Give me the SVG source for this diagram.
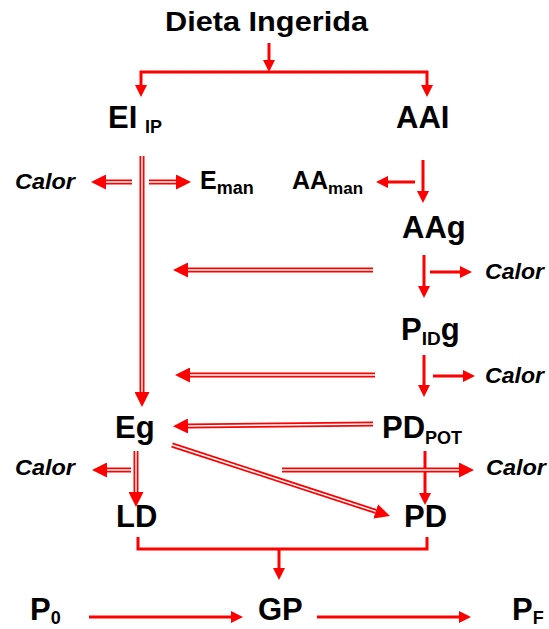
<svg xmlns="http://www.w3.org/2000/svg" width="549" height="629" viewBox="0 0 549 629">
  <style>
    text { font-family: "Liberation Sans", Arial, sans-serif; font-weight: bold; fill: #000; }
    .lbl { font-size: 31px; }
    .sub { font-size: 18px; }
    .heat { font-size: 22px; font-style: italic; }
    .title { font-size: 27px; }
    .one { fill: none; stroke: #FF0000; stroke-width: 3; }
    .dbl { fill: none; stroke: #FF0000; stroke-width: 5; }
    .gap { fill: none; stroke: #FFFFFF; stroke-width: 1.5; }
  </style>
  <defs>
    <marker id="head" markerUnits="userSpaceOnUse" markerWidth="12" markerHeight="12" viewBox="0 0 12 12" refX="0" refY="6" orient="auto-start-reverse">
      <path d="M0,0 L12,6 L0,12 Z" fill="#FF0000"/>
    </marker>
    <marker id="headDbl" markerUnits="userSpaceOnUse" markerWidth="15" markerHeight="15" viewBox="0 0 15 15" refX="0" refY="7.5" orient="auto">
      <path d="M0,0 L15,7.5 L0,15 Z" fill="#FF0000"/>
    </marker>
  </defs>

  <!-- nodes -->
  <g id="dieta"><text class="title" x="165" y="31" textLength="203" lengthAdjust="spacingAndGlyphs">Dieta Ingerida</text></g>
  <g id="ei-ip"><text class="lbl" x="108" y="128">EI<tspan class="sub" x="145" dy="5">IP</tspan></text></g>
  <g id="aai"><text class="lbl" x="396" y="128">AAI</text></g>
  <g id="calor-1"><text class="heat" x="15" y="189" textLength="60" lengthAdjust="spacingAndGlyphs">Calor</text></g>
  <g id="e-man"><text class="lbl" x="200" y="189" style="font-size:25px">E<tspan class="sub" dy="5">man</tspan></text></g>
  <g id="aa-man"><text class="lbl" x="292" y="189" style="font-size:25px">AA<tspan style="font-size:17px" dy="5">man</tspan></text></g>
  <g id="aag"><text class="lbl" x="402" y="238">AAg</text></g>
  <g id="calor-2"><text class="heat" x="485" y="279" textLength="59" lengthAdjust="spacingAndGlyphs">Calor</text></g>
  <g id="pidg"><text class="lbl" x="401" y="340">P<tspan style="font-size:19px" dy="5">ID</tspan><tspan dy="-5">g</tspan></text></g>
  <g id="calor-3"><text class="heat" x="485" y="383" textLength="59" lengthAdjust="spacingAndGlyphs">Calor</text></g>
  <g id="eg"><text class="lbl" x="115" y="438">Eg</text></g>
  <g id="pd-pot"><text class="lbl" x="382" y="438">PD<tspan class="sub" dy="6">POT</tspan></text></g>
  <g id="calor-4"><text class="heat" x="15" y="475" textLength="60" lengthAdjust="spacingAndGlyphs">Calor</text></g>
  <g id="calor-5"><text class="heat" x="486" y="475" textLength="60" lengthAdjust="spacingAndGlyphs">Calor</text></g>
  <g id="ld"><text class="lbl" x="116" y="527">LD</text></g>
  <g id="pd"><text class="lbl" x="404" y="527">PD</text></g>
  <g id="p0"><text class="lbl" x="30" y="620">P<tspan class="sub" dy="4">0</tspan></text></g>
  <g id="gp"><text class="lbl" x="258" y="620">GP</text></g>
  <g id="pf"><text class="lbl" x="512" y="620">P<tspan class="sub" dy="4">F</tspan></text></g>

  <!-- connectors -->
  <g id="connectors">
    <!-- single arrows -->
    <path class="one" d="M269,43 V60" marker-end="url(#head)"/>
    <path class="one" d="M141,85 V72 H427 V85" marker-start="url(#head)" marker-end="url(#head)"/>
    <path class="one" d="M423,160 V191" marker-end="url(#head)"/>
    <path class="one" d="M415,182 H388" marker-end="url(#head)"/>
    <path class="one" d="M424,255 V286" marker-end="url(#head)"/>
    <path class="one" d="M430,272 H460" marker-end="url(#head)"/>
    <path class="one" d="M424,355 V385" marker-end="url(#head)"/>
    <path class="one" d="M433,376 H463" marker-end="url(#head)"/>
    <path class="one" d="M425,451 V493" marker-end="url(#head)"/>
    <path class="one" d="M138,537 V549 H427 V537"/>
    <path class="one" d="M279,549 V568" marker-end="url(#head)"/>
    <path class="one" d="M89,617 H231" marker-end="url(#head)"/>
    <path class="one" d="M317,617 H459" marker-end="url(#head)"/>

    <!-- double-line arrows -->
    <path class="dbl" d="M142,156 V392" marker-end="url(#headDbl)"/>
    <path class="gap" d="M142,156 V392"/>
    <path class="dbl" d="M132,182 H106" marker-end="url(#headDbl)"/>
    <path class="gap" d="M132,182 H106"/>
    <path class="dbl" d="M149,182 H176" marker-end="url(#headDbl)"/>
    <path class="gap" d="M149,182 H176"/>
    <path class="dbl" d="M373,270 H188" marker-end="url(#headDbl)"/>
    <path class="gap" d="M373,270 H188"/>
    <path class="dbl" d="M375,375 H190" marker-end="url(#headDbl)"/>
    <path class="gap" d="M375,375 H190"/>
    <path class="dbl" d="M373,424 L188,426" marker-end="url(#headDbl)"/>
    <path class="gap" d="M373,424 L188,426"/>
    <path class="dbl" d="M136,451 V492" marker-end="url(#headDbl)"/>
    <path class="gap" d="M136,451 V492"/>
    <path class="dbl" d="M131,470 H107" marker-end="url(#headDbl)"/>
    <path class="gap" d="M131,470 H107"/>
    <path class="dbl" d="M172,445 L375.7,511.4" marker-end="url(#headDbl)"/>
    <path class="gap" d="M172,445 L375.7,511.4"/>
    <path class="dbl" d="M282,470 H459" marker-end="url(#headDbl)"/>
    <path class="gap" d="M282,470 H459"/>
  </g>
</svg>
